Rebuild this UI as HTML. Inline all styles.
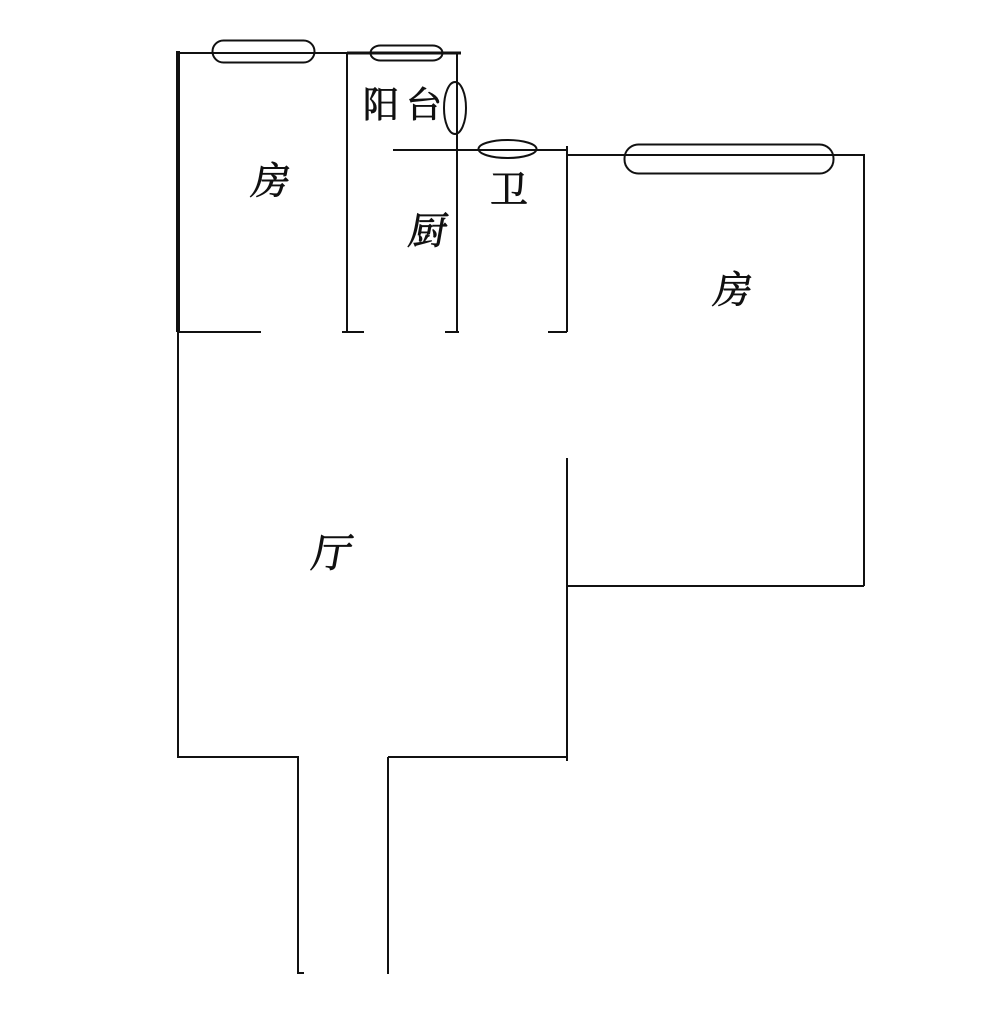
<!DOCTYPE html>
<html>
<head>
<meta charset="utf-8">
<style>
html,body{margin:0;padding:0;background:#fff;width:1000px;height:1027px;overflow:hidden}
svg{display:block}
text{font-family:"Liberation Serif","Noto Serif CJK SC",serif;fill:#111;stroke:#111;stroke-width:.8;text-anchor:middle}
</style>
</head>
<body>
<svg width="1000" height="1027" viewBox="0 0 1000 1027" xmlns="http://www.w3.org/2000/svg">
<rect width="1000" height="1027" fill="#fff"/>
<g fill="none" stroke="#111" stroke-width="2">
<!-- top wall -->
<path d="M177 53H347"/>
<path d="M347 53H461" stroke-width="3"/>
<path d="M178 51V332" stroke-width="4"/>
<path d="M347 53V332"/>
<path d="M457 53V332"/>
<path d="M393 150H567"/>
<path d="M567 146V332"/>
<path d="M567 155H864"/>
<path d="M864 154V586"/>
<path d="M567 586H864"/>
<path d="M567 458V761"/>
<!-- door stubs -->
<path d="M178 332H261"/>
<path d="M342 332H364"/>
<path d="M445 332H459"/>
<path d="M548 332H567"/>
<!-- living room -->
<path d="M178 332V758"/>
<path d="M177 757H299"/>
<path d="M388 757H567"/>
<path d="M298 757V974"/>
<path d="M388 757V974"/>
<path d="M298 973H304"/>
<!-- windows -->
<rect x="212.500" y="40.500" width="102" height="22" rx="11" ry="11"/>
<rect x="370.500" y="45.500" width="72" height="15" rx="10" ry="7.500"/>
<ellipse cx="455" cy="108" rx="11" ry="26"/>
<ellipse cx="507.500" cy="149" rx="29" ry="9"/>
<rect x="624.500" y="144.500" width="209" height="29" rx="14" ry="14"/>
</g>
<text font-size="36" x="381" y="117">阳</text>
<text font-size="36" x="424" y="117">台</text>
<text font-size="38" transform="translate(269 194) skewX(-10)" x="0" y="0">房</text>
<text font-size="38" transform="translate(509 203)" x="0" y="0">卫</text>
<text font-size="38" transform="translate(426 244) skewX(-10)" x="0" y="0">厨</text>
<text font-size="38" transform="translate(731 303) skewX(-10)" x="0" y="0">房</text>
<text font-size="40" transform="translate(330 567) skewX(-10)" x="0" y="0">厅</text>
</svg>
</body>
</html>
